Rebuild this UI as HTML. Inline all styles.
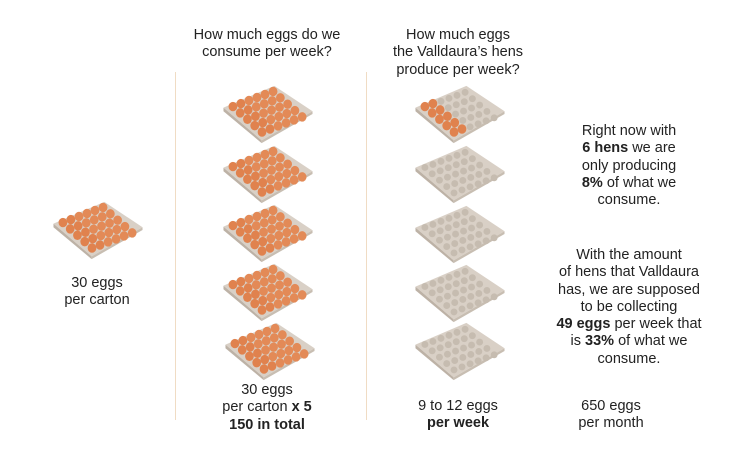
<!DOCTYPE html>
<html><head><meta charset="utf-8"><style>
body{margin:0;background:#fff;}
#c{position:relative;width:730px;height:456px;overflow:hidden;background:#fff;font-family:"Liberation Sans",sans-serif;font-size:14.5px;color:#222;line-height:17.3px;}
.t{position:absolute;text-align:center;white-space:nowrap;transform:translateX(-50%);}
.v{position:absolute;width:1px;background:#f0dcc4;top:72px;height:348px;}
svg.cr{position:absolute;width:96px;height:60px;}
b{font-weight:bold;}
</style></head><body><div id="c">
<svg width="0" height="0" style="position:absolute">
<defs>
<g id="tray">
<polygon points="-2,22 54,-2 96,26 40,58" fill="#d9d0c6"/>
<polygon points="-2,22 40,58 40,61 -2,26" fill="#bdb2a6"/>
<polygon points="40,58 96,26 96,29 40,61" fill="#c8beb2"/>
</g>
<g id="cups" fill="#c6bcb0">
<circle cx="8.4" cy="21.8" r="3.8"/><circle cx="17.2" cy="18.5" r="3.8"/><circle cx="26.1" cy="15.1" r="3.8"/><circle cx="34.9" cy="11.8" r="3.8"/><circle cx="43.7" cy="8.5" r="3.8"/><circle cx="52.6" cy="5.2" r="3.8"/>
<circle cx="16.4" cy="28.8" r="3.8"/><circle cx="25.2" cy="25.5" r="3.8"/><circle cx="34.1" cy="22.1" r="3.8"/><circle cx="42.9" cy="18.8" r="3.8"/><circle cx="51.7" cy="15.5" r="3.8"/><circle cx="60.6" cy="12.2" r="3.8"/>
<circle cx="24.4" cy="35.8" r="3.8"/><circle cx="33.2" cy="32.5" r="3.8"/><circle cx="42.1" cy="29.1" r="3.8"/><circle cx="50.9" cy="25.8" r="3.8"/><circle cx="59.7" cy="22.5" r="3.8"/><circle cx="68.6" cy="19.2" r="3.8"/>
<circle cx="32.4" cy="42.8" r="3.8"/><circle cx="41.2" cy="39.5" r="3.8"/><circle cx="50.1" cy="36.1" r="3.8"/><circle cx="58.9" cy="32.8" r="3.8"/><circle cx="67.7" cy="29.5" r="3.8"/><circle cx="76.6" cy="26.2" r="3.8"/>
<circle cx="40.4" cy="49.8" r="3.8"/><circle cx="49.2" cy="46.5" r="3.8"/><circle cx="58.1" cy="43.1" r="3.8"/><circle cx="66.9" cy="39.8" r="3.8"/><circle cx="75.7" cy="36.5" r="3.8"/><circle cx="84.6" cy="33.2" r="3.8"/>
</g>
<g id="eggs2" fill="#e0824e">
<ellipse cx="8.4" cy="20.8" rx="4.8" ry="5.2"/><ellipse cx="17.2" cy="17.5" rx="4.8" ry="5.2"/>
<ellipse cx="16.4" cy="27.8" rx="4.8" ry="5.2"/><ellipse cx="25.2" cy="24.5" rx="4.8" ry="5.2"/>
<ellipse cx="24.4" cy="34.8" rx="4.8" ry="5.2"/><ellipse cx="33.2" cy="31.5" rx="4.8" ry="5.2"/>
<ellipse cx="32.4" cy="41.8" rx="4.8" ry="5.2"/><ellipse cx="41.2" cy="38.5" rx="4.8" ry="5.2"/>
<ellipse cx="40.4" cy="48.8" rx="4.8" ry="5.2"/><ellipse cx="49.2" cy="45.5" rx="4.8" ry="5.2"/>
</g>
<g id="eggs" fill="#e38a57">
<ellipse cx="26.1" cy="14.1" rx="4.8" ry="5.2"/><ellipse cx="34.9" cy="10.8" rx="4.8" ry="5.2"/><ellipse cx="43.7" cy="7.5" rx="4.8" ry="5.2"/><ellipse cx="52.6" cy="4.2" rx="4.8" ry="5.2"/>
<ellipse cx="34.1" cy="21.1" rx="4.8" ry="5.2"/><ellipse cx="42.9" cy="17.8" rx="4.8" ry="5.2"/><ellipse cx="51.7" cy="14.5" rx="4.8" ry="5.2"/><ellipse cx="60.6" cy="11.2" rx="4.8" ry="5.2"/>
<ellipse cx="42.1" cy="28.1" rx="4.8" ry="5.2"/><ellipse cx="50.9" cy="24.8" rx="4.8" ry="5.2"/><ellipse cx="59.7" cy="21.5" rx="4.8" ry="5.2"/><ellipse cx="68.6" cy="18.2" rx="4.8" ry="5.2"/>
<ellipse cx="50.1" cy="35.1" rx="4.8" ry="5.2"/><ellipse cx="58.9" cy="31.8" rx="4.8" ry="5.2"/><ellipse cx="67.7" cy="28.5" rx="4.8" ry="5.2"/><ellipse cx="76.6" cy="25.2" rx="4.8" ry="5.2"/>
<ellipse cx="58.1" cy="42.1" rx="4.8" ry="5.2"/><ellipse cx="66.9" cy="38.8" rx="4.8" ry="5.2"/><ellipse cx="75.7" cy="35.5" rx="4.8" ry="5.2"/><ellipse cx="84.6" cy="32.2" rx="4.8" ry="5.2"/>
</g>
</defs></svg>

<div class="v" style="left:175px"></div>
<div class="v" style="left:366px"></div>

<svg class="cr" style="left:50px;top:200px" viewBox="-2 -4 98 66"><use href="#tray"/><use href="#eggs2"/><use href="#eggs"/></svg>
<svg class="cr" style="left:220px;top:84px" viewBox="-2 -4 98 66"><use href="#tray"/><use href="#eggs2"/><use href="#eggs"/></svg>
<svg class="cr" style="left:220px;top:144px" viewBox="-2 -4 98 66"><use href="#tray"/><use href="#eggs2"/><use href="#eggs"/></svg>
<svg class="cr" style="left:220px;top:203px" viewBox="-2 -4 98 66"><use href="#tray"/><use href="#eggs2"/><use href="#eggs"/></svg>
<svg class="cr" style="left:220px;top:262px" viewBox="-2 -4 98 66"><use href="#tray"/><use href="#eggs2"/><use href="#eggs"/></svg>
<svg class="cr" style="left:222px;top:321px" viewBox="-2 -4 98 66"><use href="#tray"/><use href="#eggs2"/><use href="#eggs"/></svg>

<svg class="cr" style="left:412px;top:84px" viewBox="-2 -4 98 66"><use href="#tray"/><use href="#cups"/><use href="#eggs2"/></svg>
<svg class="cr" style="left:412px;top:144px" viewBox="-2 -4 98 66"><use href="#tray"/><use href="#cups"/></svg>
<svg class="cr" style="left:412px;top:204px" viewBox="-2 -4 98 66"><use href="#tray"/><use href="#cups"/></svg>
<svg class="cr" style="left:412px;top:263px" viewBox="-2 -4 98 66"><use href="#tray"/><use href="#cups"/></svg>
<svg class="cr" style="left:412px;top:321px" viewBox="-2 -4 98 66"><use href="#tray"/><use href="#cups"/></svg>

<div class="t" style="left:267px;top:27px">How much eggs do we<br>consume per week?</div>
<div class="t" style="left:458px;top:27px">How much eggs<br>the Valldaura’s hens<br>produce per week?</div>
<div class="t" style="left:97px;top:275px">30 eggs<br>per carton</div>
<div class="t" style="left:267px;top:382px">30 eggs<br>per carton <b>x 5</b><br><b>150 in total</b></div>
<div class="t" style="left:458px;top:398px">9 to 12 eggs<br><b>per week</b></div>
<div class="t" style="left:629px;top:123px">Right now with<br><b>6 hens</b> we are<br>only producing<br><b>8%</b> of what we<br>consume.</div>
<div class="t" style="left:629px;top:247px">With the amount<br>of hens that Valldaura<br>has, we are supposed<br>to be collecting<br><b>49 eggs</b> per week that<br>is <b>33%</b> of what we<br>consume.</div>
<div class="t" style="left:611px;top:398px">650 eggs<br>per month</div>
</div></body></html>
